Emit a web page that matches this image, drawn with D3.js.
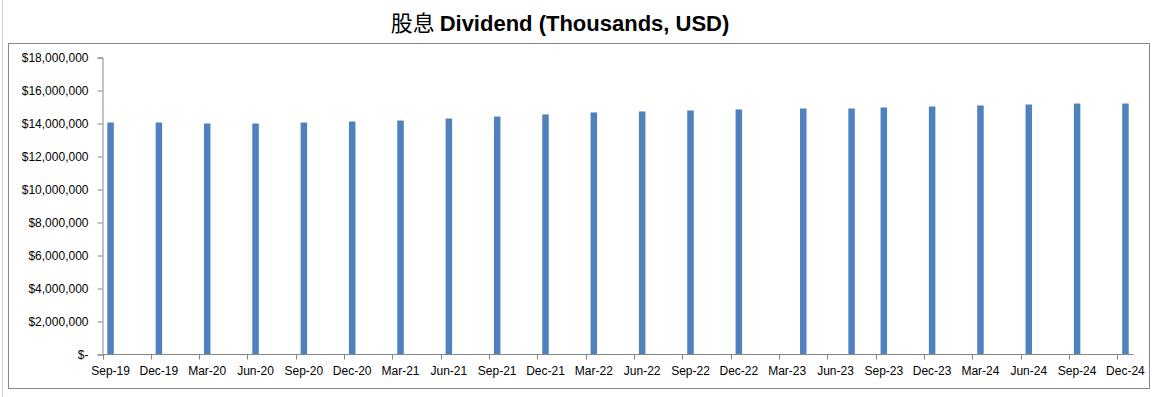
<!DOCTYPE html>
<html>
<head>
<meta charset="utf-8">
<script src="https://cdn.jsdelivr.net/npm/d3@7"></script>
<style>
  html, body { margin: 0; padding: 0; background: #fff; }
  svg { display: block; }
</style>
</head>
<body>
<svg id="chart" width="1157" height="397"></svg>
<script>
// quarterly dividend, thousands USD (Mar-23 and Jun-23 were booked a month late)
const periods = ['2019-09', '2019-12', '2020-03', '2020-06', '2020-09', '2020-12',
  '2021-03', '2021-06', '2021-09', '2021-12', '2022-03', '2022-06', '2022-09', '2022-12',
  '2023-04', '2023-07', '2023-09', '2023-12', '2024-03', '2024-06', '2024-09', '2024-12'];
const dividends = [14060000, 14060000, 14000000, 14000000, 14060000, 14120000,
  14180000, 14300000, 14420000, 14550000, 14670000, 14730000, 14790000, 14850000,
  14910000, 14910000, 14970000, 15030000, 15090000, 15150000, 15210000, 15210000];
const yTicks = [0, 2e6, 4e6, 6e6, 8e6, 10e6, 12e6, 14e6, 16e6, 18e6];
const titleCn = '股息';
const titleEn = 'Dividend (Thousands, USD)';

const svg = d3.select('#chart');
const axisColor = '#868686';
const barColor = '#4f81bd';
const font = '"Liberation Sans", Arial, sans-serif';

// sheet gridline + chart frame
svg.append('line')
  .attr('x1', 2.5).attr('x2', 2.5).attr('y1', 0).attr('y2', 397)
  .attr('stroke', '#d4d4d4');
svg.append('rect')
  .attr('x', 8.5).attr('y', 43.5).attr('width', 1141).attr('height', 345)
  .attr('fill', '#fff').attr('stroke', axisColor);

// title
const title = svg.append('text')
  .attr('x', 560).attr('y', 31)
  .attr('text-anchor', 'middle')
  .attr('font-size', 22)
  .attr('fill', '#000');
title.append('tspan')
  .attr('font-family', '"Noto Sans CJK SC", sans-serif')
  .attr('font-weight', 'normal')
  .text(titleCn + ' ');
title.append('tspan')
  .attr('font-family', font)
  .attr('font-weight', 'bold')
  .text(titleEn);

// scales: one equal slot per month, like a date axis with month base unit
const parseMonth = d3.timeParse('%Y-%m');
const months = d3.timeMonth.range(new Date(2019, 8, 1), new Date(2025, 0, 1));
const x = d3.scaleBand()
  .domain(months.map(d => +d))
  .range([102.5, 1133.5])
  .padding(0);
const y = d3.scaleLinear()
  .domain([0, 18e6])
  .range([354.5, 57.5]);

// y axis
const yAxis = svg.append('g')
  .attr('transform', 'translate(102.5,0)')
  .call(d3.axisLeft(y)
    .tickValues(yTicks)
    .tickSize(5)
    .tickPadding(9)
    .tickFormat(d => d === 0 ? '$-' : '$' + d3.format(',')(d)));
yAxis.select('.domain').attr('stroke', axisColor);
yAxis.selectAll('.tick line').attr('stroke', axisColor);
yAxis.selectAll('.tick text')
  .attr('font-family', font)
  .attr('font-size', 12)
  .attr('fill', '#000');

// bars
const data = periods.map((p, i) => ({ date: parseMonth(p), value: dividends[i] }));
const barW = 6.5;
svg.append('g')
  .selectAll('rect')
  .data(data)
  .join('rect')
    .attr('x', d => x(+d.date) + x.bandwidth() / 2 - barW / 2)
    .attr('y', d => y(d.value))
    .attr('width', barW)
    .attr('height', d => y(0) - y(d.value))
    .attr('fill', barColor);

// x axis: ticks at slot edges every quarter, labels centred in the slot
const xg = svg.append('g');
xg.append('line')
  .attr('x1', x.range()[0]).attr('x2', x.range()[1])
  .attr('y1', y(0)).attr('y2', y(0))
  .attr('stroke', axisColor);
const quarterMonths = months.filter((d, i) => i % 3 === 0);
xg.selectAll('.xtick')
  .data(quarterMonths)
  .join('line')
    .attr('class', 'xtick')
    .attr('x1', d => Math.round(x(+d)) + 0.5)
    .attr('x2', d => Math.round(x(+d)) + 0.5)
    .attr('y1', y(0))
    .attr('y2', y(0) + 5)
    .attr('stroke', axisColor);
xg.selectAll('.xlabel')
  .data(quarterMonths)
  .join('text')
    .attr('class', 'xlabel')
    .attr('x', d => x(+d) + x.bandwidth() / 2)
    .attr('y', 375)
    .attr('text-anchor', 'middle')
    .attr('font-family', font)
    .attr('font-size', 12)
    .attr('fill', '#000')
    .text(d => d3.timeFormat('%b-%y')(d));
</script>
</body>
</html>
